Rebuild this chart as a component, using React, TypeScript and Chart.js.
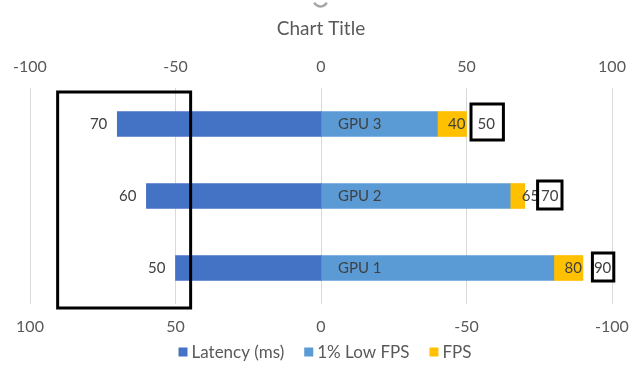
import React, { useEffect, useRef } from "react";
import { Chart, registerables } from "chart.js";

Chart.register(...registerables);

// ---- data ----
const categories = ["GPU 3", "GPU 2", "GPU 1"];
const latencyMs = [70, 60, 50];
const lowFps = [40, 65, 80];
const fps = [50, 70, 90];
const axisMin = -100;
const axisMax = 100;
const axisStep = 50;
const titleText = "Chart Title";
const seriesNames = ["Latency (ms)", "1% Low FPS", "FPS"];

// ---- style ----
const FONT = "Lato, 'Open Sans', sans-serif";
const AXIS_TEXT = "#595959";
const LABEL_TEXT = "#404040";
const COLORS = ["#4472C4", "#5B9BD5", "#FFC000"];
const boxStyle = [
  { l: 8, r: 10, up: 21.5, down: 17.5 },
  { l: 5, r: 5, up: 16.5, down: 14.5 },
  { l: 3, r: 4, up: 16.5, down: 14.5 },
];

const overlayPlugin = {
  id: "excelOverlay",
  afterDraw(chart: any) {
    const ctx = chart.ctx as CanvasRenderingContext2D;
    const area = chart.chartArea;
    const xs = chart.scales.x;
    ctx.save();

    ctx.strokeStyle = "#a6a6a6";
    ctx.lineWidth = 2.5;
    ctx.beginPath();
    ctx.arc(320.5, -0.5, 7, 0.15 * Math.PI, 0.85 * Math.PI);
    ctx.stroke();

    ctx.fillStyle = AXIS_TEXT;
    ctx.font = `19px ${FONT}`;
    ctx.textAlign = "center";
    ctx.textBaseline = "middle";
    ctx.fillText(titleText, (area.left + area.right) / 2, 29);

    ctx.font = `15px ${FONT}`;
    ctx.fillStyle = LABEL_TEXT;
    const m0 = chart.getDatasetMeta(0);
    const m1 = chart.getDatasetMeta(1);
    const m2 = chart.getDatasetMeta(2);
    categories.forEach((cat, i) => {
      const lat = m0.data[i] as any;
      ctx.textAlign = "right";
      ctx.fillText(String(latencyMs[i]), lat.x - 10, lat.y);

      const low = m1.data[i] as any;
      ctx.textAlign = "left";
      ctx.fillText(cat, low.base + 17, low.y);

      const f = m2.data[i] as any;
      const segW = f.x - f.base;
      const t = String(lowFps[i]);
      const tw = ctx.measureText(t).width;
      let midEnd: number;
      if (tw + 4 <= segW) {
        ctx.textAlign = "right";
        ctx.fillText(t, f.x - 1, f.y);
        midEnd = f.x - 1;
      } else {
        ctx.textAlign = "left";
        ctx.fillText(t, f.x - 3, f.y);
        midEnd = f.x - 3 + tw;
      }

      const tot = String(fps[i]);
      const tx = Math.max(f.x + 11, midEnd + 2);
      ctx.textAlign = "left";
      ctx.fillText(tot, tx, f.y);
      const tw2 = ctx.measureText(tot).width;

      const b = boxStyle[i];
      const L = tx - b.l;
      const R = tx + tw2 + b.r;
      const T = f.y - b.up;
      const B = f.y + b.down;
      ctx.strokeStyle = "#000";
      ctx.lineWidth = 3;
      ctx.strokeRect(L + 1.5, T + 1.5, R - L - 3, B - T - 3);
    });

    const bl = xs.getPixelForValue(-90.5);
    const br = xs.getPixelForValue(-44.8);
    ctx.strokeStyle = "#000";
    ctx.lineWidth = 3;
    ctx.strokeRect(bl, area.top + 4, br - bl, area.bottom - area.top);

    ctx.font = `17px ${FONT}`;
    ctx.textBaseline = "middle";
    ctx.textAlign = "left";
    const sq = 9;
    const gapSqText = 4;
    const gapItems = 20;
    const widths = seriesNames.map((n) => sq + gapSqText + ctx.measureText(n).width);
    const total = widths.reduce((a, b) => a + b, 0) + gapItems * (seriesNames.length - 1);
    let lx = (area.left + area.right) / 2 + 4 - total / 2;
    const ly = 352;
    seriesNames.forEach((n, i) => {
      ctx.fillStyle = COLORS[i];
      ctx.fillRect(lx, ly - sq / 2, sq, sq);
      ctx.fillStyle = AXIS_TEXT;
      ctx.fillText(n, lx + sq + gapSqText, ly + 1);
      lx += widths[i] + gapItems;
    });

    ctx.restore();
  },
};

export default function App() {
  const ref = useRef<HTMLCanvasElement | null>(null);

  useEffect(() => {
    document.body.style.margin = "0";
    const canvas = ref.current;
    if (!canvas) return;
    const chart = new Chart(canvas, {
      type: "bar",
      data: {
        labels: categories,
        datasets: [
          { label: seriesNames[0], data: latencyMs.map((v) => -v), backgroundColor: COLORS[0] },
          { label: seriesNames[1], data: lowFps, backgroundColor: COLORS[1] },
          { label: seriesNames[2], data: fps.map((v, i) => v - lowFps[i]), backgroundColor: COLORS[2] },
        ],
      },
      options: {
        indexAxis: "y",
        responsive: false,
        animation: false,
        events: [],
        datasets: { bar: { barThickness: 25 } as any },
        layout: { padding: { left: 30, right: 24, top: 48, bottom: 36 } },
        plugins: {
          legend: { display: false },
          title: { display: false },
          tooltip: { enabled: false },
        },
        scales: {
          y: { display: false, stacked: true },
          x: {
            position: "bottom",
            stacked: true,
            min: axisMin,
            max: axisMax,
            grid: { display: false },
            border: { display: false },
            ticks: {
              stepSize: axisStep,
              maxRotation: 0,
              autoSkip: false,
              padding: 5,
              color: AXIS_TEXT,
              font: { family: FONT, size: 16 },
              callback: (v: any) => String(-Number(v)),
            },
            afterFit: (s: any) => {
              s.height = 40;
              s.paddingLeft = 0;
              s.paddingRight = 0;
            },
          },
          x2: {
            type: "linear",
            position: "top",
            min: axisMin,
            max: axisMax,
            grid: { color: "#d9d9d9", lineWidth: 1, drawTicks: false },
            border: { display: false },
            ticks: {
              stepSize: axisStep,
              maxRotation: 0,
              autoSkip: false,
              padding: 12,
              color: AXIS_TEXT,
              font: { family: FONT, size: 16 },
              callback: (v: any) => String(Number(v)),
            },
            afterFit: (s: any) => {
              s.height = 40;
              s.paddingLeft = 0;
              s.paddingRight = 0;
            },
          },
        },
      },
      plugins: [overlayPlugin],
    });
    return () => chart.destroy();
  }, []);

  return (
    <div style={{ width: 636, height: 380, background: "#fff" }}>
      <canvas ref={ref} width={636} height={380} />
    </div>
  );
}
